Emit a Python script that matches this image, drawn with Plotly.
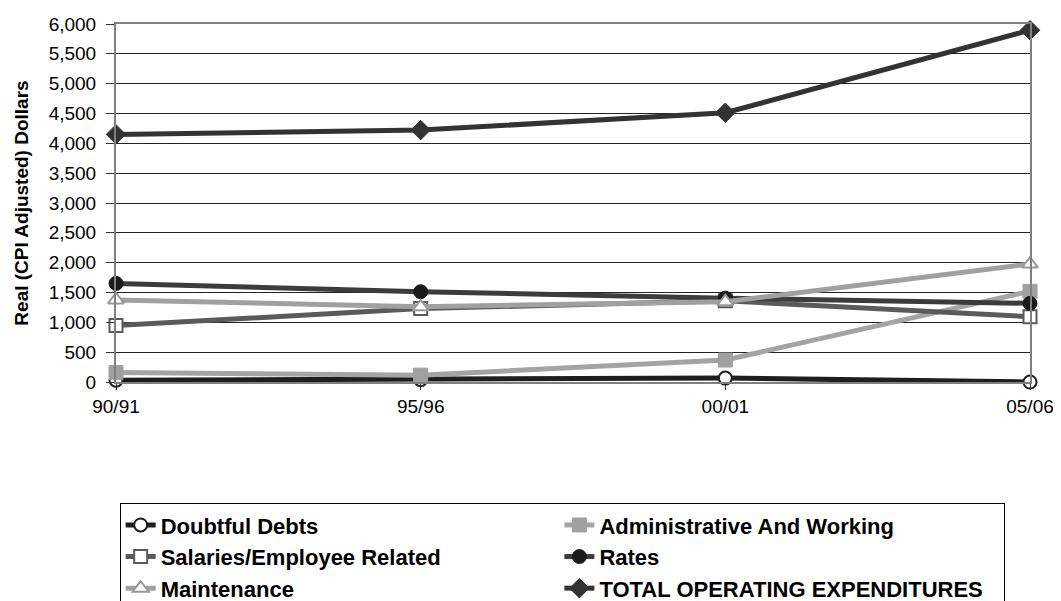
import plotly.graph_objects as go

years = ["90/91", "95/96", "00/01", "05/06"]
doubtful = [30, 40, 65, 0]
admin = [160, 115, 368, 1520]
salaries = [945, 1230, 1360, 1095]
rates = [1652, 1513, 1405, 1318]
maintenance = [1375, 1260, 1345, 1977]
total = [4150, 4222, 4512, 5896]
y_ticks = list(range(0, 6001, 500))

series = [
    ("Doubtful Debts", doubtful, "#1e1e1e", dict(symbol="circle", color="white", size=13, line=dict(color="#1e1e1e", width=2))),
    ("Administrative And Working", admin, "#a4a4a4", dict(symbol="square", color="#a0a0a0", size=14, line=dict(color="#a0a0a0", width=1))),
    ("Salaries/Employee Related", salaries, "#5a5a5a", dict(symbol="square", color="white", size=13, line=dict(color="#5a5a5a", width=2))),
    ("Rates", rates, "#3c3c3c", dict(symbol="circle", color="#1a1a1a", size=14, line=dict(color="#1a1a1a", width=1))),
    ("Maintenance", maintenance, "#a0a0a0", dict(symbol="triangle-up", color="white", size=14, line=dict(color="#999999", width=2))),
    ("TOTAL OPERATING EXPENDITURES", total, "#333333", dict(symbol="diamond", color="#333333", size=15, line=dict(color="#333333", width=1))),
]

fig = go.Figure()
for name, vals, col, mk in series:
    fig.add_trace(go.Scatter(
        x=years, y=vals, name=name, mode="lines+markers",
        line=dict(color=col, width=5), marker=mk, cliponaxis=False,
    ))

font_family = "Liberation Sans, Arial, sans-serif"
fig.update_layout(
    width=1053, height=593,
    margin=dict(l=108, r=31, t=16, b=219),
    paper_bgcolor="white", plot_bgcolor="white",
    font=dict(family=font_family, size=19, color="black"),
    showlegend=True,
    legend=dict(
        orientation="h", x=0.004, y=0.165, yref="container",
        xanchor="left", yanchor="top",
        bordercolor="black", borderwidth=1,
        entrywidth=0.48, entrywidthmode="fraction",
        font=dict(family=font_family, size=22, color="black", weight="bold"),
        traceorder="normal",
    ),
    xaxis=dict(
        type="category", range=[0, 3], showgrid=False, automargin=False,
        showline=True, linecolor="#808080", linewidth=2, mirror=True,
        ticks="outside", ticklen=6, tickcolor="#333333",
        tickfont=dict(size=19), zeroline=False,
    ),
    yaxis=dict(
        range=[0, 6000], tickvals=y_ticks, tickformat=",", automargin=False,
        showgrid=True, gridcolor="#222222", gridwidth=1,
        showline=True, linecolor="#808080", linewidth=2, mirror=True,
        ticks="outside", ticklen=8, tickcolor="#333333", ticklabelstandoff=6,
        tickfont=dict(size=19), zeroline=False,
        title=dict(text="<b>Real (CPI Adjusted) Dollars</b>", font=dict(size=19)),
    ),
)

fig.write_html("out.html")
